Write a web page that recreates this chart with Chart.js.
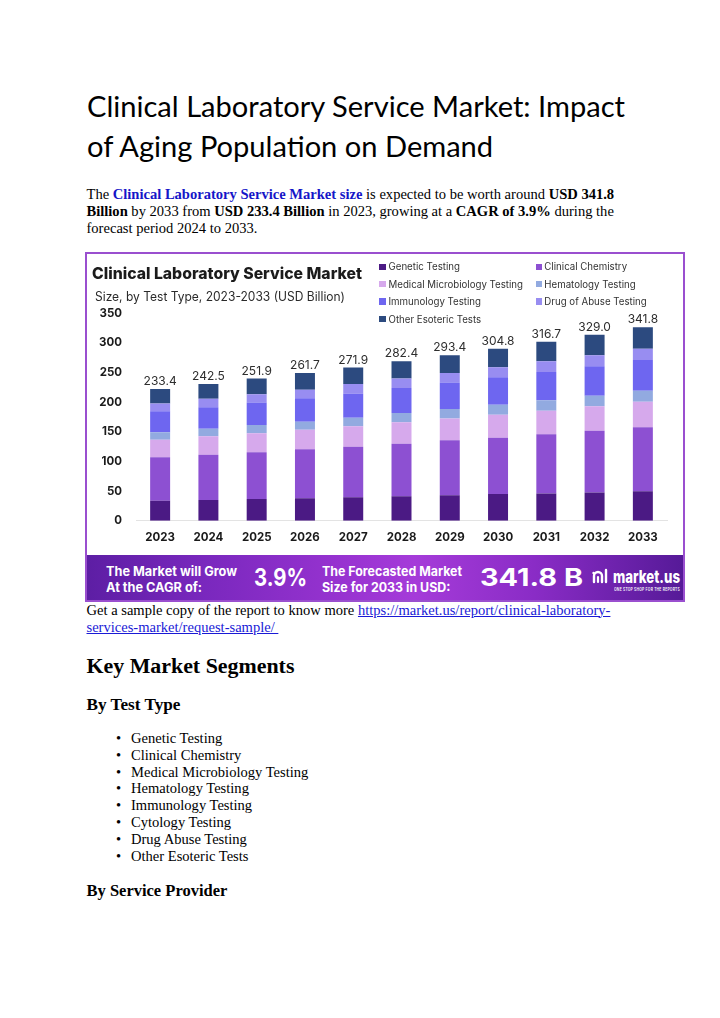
<!DOCTYPE html>
<html>
<head>
<meta charset="utf-8">
<script src="https://cdn.jsdelivr.net/npm/chart.js@4.4.0/dist/chart.umd.min.js"></script>
<style>
  html,body{margin:0;padding:0;background:#fff;}
  body{width:720px;height:1018px;position:relative;overflow:hidden;}
  .ln{position:absolute;top:0;white-space:nowrap;line-height:1;display:inline-block;transform-origin:0 0;}
  .serif{font-family:"Liberation Serif","Times New Roman",serif;color:#000;}
  .h1{font-family:Lato,"Open Sans",sans-serif;font-size:28.5px;color:#000;}
  a{color:#1a0dab;}
  .p1 a{color:#1515c8;font-weight:bold;}
  .lk{color:#1a1ad6;text-decoration:underline;}
  #frame{position:absolute;left:85px;top:252px;width:596px;height:346px;border:2px solid #9a4fcf;background:#fff;overflow:hidden;}
  #chartCanvas{position:absolute;left:0;top:0;}
  .ct{font-family:Inter,"Open Sans",sans-serif;}
  #banner{position:absolute;left:0;top:301px;width:596px;height:45px;
    background:linear-gradient(90deg,#5d1ea4 0%,#7a28be 20%,#9a34d2 45%,#a53bd9 55%,#8a2cc6 75%,#561a98 100%);}
  .wt{color:#fff;font-family:Inter,"Open Sans",sans-serif;font-weight:700;}
  .sq{position:absolute;width:6.5px;height:6.5px;}
</style>
</head>
<body>

<!-- page heading -->
<div class="ln h1" id="h1a" data-x="87" data-b="116.7" data-w="538">Clinical Laboratory Service Market: Impact</div>
<div class="ln h1" id="h1b" data-x="87" data-b="157.3">of Aging Population on Demand</div>

<!-- paragraph -->
<div class="ln serif p1 body" id="p1a" data-x="86.5" data-b="199.3">The <a>Clinical Laboratory Service Market size</a> is expected to be worth around <b>USD 341.8</b></div>
<div class="ln serif p1 body" data-x="86.5" data-b="216.4"><b>Billion</b> by 2033 from <b>USD 233.4 Billion</b> in 2023, growing at a <b>CAGR of 3.9%</b> during the</div>
<div class="ln serif p1 body" data-x="86.5" data-b="233.3">forecast period 2024 to 2033.</div>

<!-- chart frame -->
<div id="frame">
  <canvas id="chartCanvas" width="596" height="300"></canvas>
  <div id="chartTexts"></div>
  <div id="banner"></div>
</div>

<!-- text under chart -->
<div class="ln serif body" data-x="86.5" data-b="614.5">Get a sample copy of the report to know more <span class="lk">https://market.us/report/clinical-laboratory-</span></div>
<div class="ln serif body" data-x="86.5" data-b="631.5"><span class="lk">services-market/request-sample/&nbsp;</span></div>

<div class="ln serif" id="kms" style="font-weight:bold" data-x="86.5" data-b="673" data-fw="208">Key Market Segments</div>
<div class="ln serif" id="btt" style="font-weight:bold" data-x="86.5" data-b="709.5" data-fw="94">By Test Type</div>
<div id="list"></div>
<div class="ln serif" id="bsp" style="font-weight:bold" data-x="86.5" data-b="895.5" data-fw="141">By Service Provider</div>

<script>
// ---------------- DATA ----------------
const years = ['2023','2024','2025','2026','2027','2028','2029','2030','2031','2032','2033'];
const totalLabels = ['233.4','242.5','251.9','261.7','271.9','282.4','293.4','304.8','316.7','329.0','341.8'];
const geneticTesting      = [33.8, 34.9, 36.6, 37.7, 39.4, 41.1, 42.8, 45.0, 46.1, 47.8, 49.5];
const clinicalChemistry   = [73.2, 76.5, 78.8, 82.7, 85.5, 88.9, 92.9, 95.1, 99.6, 104.1, 108.0];
const medicalMicrobiology = [29.8, 31.0, 32.1, 33.2, 34.3, 36.0, 36.6, 38.8, 40.0, 41.1, 43.3];
const hematologyTesting   = [12.4, 12.9, 14.1, 13.5, 14.6, 15.8, 16.3, 16.9, 17.4, 18.0, 18.6];
const immunologyTesting   = [35.5, 36.0, 37.7, 39.4, 40.5, 42.2, 44.5, 46.1, 47.8, 49.5, 51.8];
const drugOfAbuseTesting  = [12.9, 14.6, 14.1, 14.6, 16.3, 15.8, 16.3, 16.9, 18.0, 18.6, 19.1];
const otherEsotericTests  = [24.8, 24.8, 26.4, 28.1, 28.1, 29.3, 29.8, 31.5, 33.2, 34.9, 36.0];
const seriesNames = ['Genetic Testing','Clinical Chemistry','Medical Microbiology Testing','Hematology Testing','Immunology Testing','Drug of Abuse Testing','Other Esoteric Tests'];
const seriesValues = [geneticTesting, clinicalChemistry, medicalMicrobiology, hematologyTesting, immunologyTesting, drugOfAbuseTesting, otherEsotericTests];
const seriesColors = ['#4b1a84','#8d50d2','#d6a9ec','#92aae0','#6e66f0','#988df1','#2c4a7f'];
const yMin = 0, yMax = 350, yStep = 50;
const listItems = ['Genetic Testing','Clinical Chemistry','Medical Microbiology Testing','Hematology Testing','Immunology Testing','Cytology Testing','Drug Abuse Testing','Other Esoteric Tests'];

// ---------------- TEXT HELPERS ----------------
function marker(el){
  const m=document.createElement('span');
  m.style.cssText='display:inline-block;width:0;height:0;vertical-align:baseline';
  el.appendChild(m);
  const y=m.getBoundingClientRect().top; m.remove(); return y;
}
function placeAll(){
  document.querySelectorAll('.ln').forEach(el=>{
    if(el.dataset.x) el.style.left=el.dataset.x+'px';
    el.style.top='0px';
    const y=marker(el);
    const parentTop = el.offsetParent ? el.offsetParent.getBoundingClientRect().top + (el.offsetParent.clientTop||0) : 0;
    el.style.top=((+el.dataset.b) - parentTop - (y-parentTop))+'px';
  });
}
function widthOf(el){ const t=el.style.transform; el.style.transform='none'; const w=el.getBoundingClientRect().width; el.style.transform=t; return w; }

// list
const listDiv=document.getElementById('list');
listItems.forEach((t,i)=>{
  const b=document.createElement('div'); b.className='ln serif body'; b.dataset.x='116'; b.dataset.b=(742.8+16.86*i).toFixed(2); b.textContent='\u2022'; listDiv.appendChild(b);
  const d=document.createElement('div'); d.className='ln serif body'; d.dataset.x='131'; d.dataset.b=(742.8+16.86*i).toFixed(2); d.textContent=t; listDiv.appendChild(d);
});

// body font size fit
const p1a=document.getElementById('p1a');
p1a.style.fontSize='15px';
const fsBody=15*528/widthOf(p1a);
document.querySelectorAll('.body').forEach(e=>e.style.fontSize=fsBody+'px');
// bold headings fit by font size
['kms','btt','bsp'].forEach(id=>{const e=document.getElementById(id); e.style.fontSize='20px'; e.style.fontSize=(20*(+e.dataset.fw)/widthOf(e))+'px';});
// h1 scaleX
const h1a=document.getElementById('h1a'), h1b=document.getElementById('h1b');
const sH=538/widthOf(h1a);
h1a.style.transform=h1b.style.transform='scaleX('+sH+')';

// ---------------- CHART TEXTS (title, legend, banner) ----------------
const ct=document.getElementById('chartTexts');
const FX=87, FY=254; // frame inner origin in page coords
function addText(parent, html, cls, x, b, style, w){
  const d=document.createElement('div'); d.className='ln '+cls; d.innerHTML=html;
  d.dataset.x=(x-FX); d.dataset.b=b; if(style) d.style.cssText+=style; if(w) d.dataset.sw=w;
  parent.appendChild(d); return d;
}
addText(ct,'Clinical Laboratory Service Market','ct',92,278.8,'font-size:16px;font-weight:800;color:#1b1b1b;',270);
addText(ct,'Size, by Test Type, 2023-2033 (USD Billion)','ct',95,301.2,'font-size:12.4px;font-weight:400;color:#2a2a2a;',250);

// legend: 2 columns, series order row-major
seriesNames.forEach((n,i)=>{
  const col=i%2,row=Math.floor(i/2);
  const sx=[379.3,535.7][col], tx=[388.5,544.3][col];
  const cy=266.8+17.4*row;
  const sq=document.createElement('div'); sq.className='sq';
  sq.style.left=(sx-FX)+'px'; sq.style.top=(cy-3.3-FY)+'px'; sq.style.background=seriesColors[i];
  ct.appendChild(sq);
  addText(ct,n,'ct',tx,cy+3.6,'font-size:9.7px;color:#333;');
});

// banner texts
const bn=document.getElementById('banner');
const bannerTop=FY+301;
function addB(html,x,b,style,w){
  const d=document.createElement('div'); d.className='ln wt'; d.innerHTML=html;
  d.dataset.x=(x-FX); d.dataset.b=b; d.style.cssText+=style; if(w) d.dataset.sw=w; bn.appendChild(d); return d;
}
const bA1=addB('The Market will Grow',106,576.3,'font-size:13px;',131);
const bA2=addB('At the CAGR of:',106,592.3,'font-size:13px;');
addB('3.9%',254,586,'font-size:24px;',53);
const bB1=addB('The Forecasted Market',322,576.3,'font-size:13px;',140);
const bB2=addB('Size for 2033 in USD:',322,592.3,'font-size:13px;');
addB('341.8 B',480,586,'font-size:24px;',103);
addB('market.us',613,582.5,'font-size:17px;font-weight:800;',67);
addB('ONE STOP SHOP FOR THE REPORTS',613.5,591,'font-size:4.6px;font-weight:600;letter-spacing:0.3px;',66);
// logo icon (simple glyph)
const ic=document.createElement('div');
ic.style.cssText='position:absolute;left:'+(592-FX)+'px;top:'+(567-bannerTop)+'px;width:16px;height:17px;';
ic.innerHTML='<svg width="16" height="17" viewBox="0 0 16 17"><path d="M2 15 V9 a4 4 0 0 1 8 0 V15" fill="none" stroke="#fff" stroke-width="2.4" stroke-linecap="round"/><path d="M6 15 V10" stroke="#fff" stroke-width="2.2" stroke-linecap="round"/><path d="M14 15 V3" stroke="#fff" stroke-width="2.4" stroke-linecap="round"/><circle cx="1.5" cy="6" r="1.2" fill="#fff"/></svg>';
bn.appendChild(ic);

// apply scaleX for elements with data-sw
document.querySelectorAll('[data-sw]').forEach(e=>{ e.style.transform='scaleX('+((+e.dataset.sw)/widthOf(e))+')'; });
bA2.style.transform=bA1.style.transform; bB2.style.transform=bB1.style.transform;

placeAll();

// ---------------- CHART ----------------
const totalsPlugin={
  id:'totals',
  afterDatasetsDraw(chart){
    const ctx=chart.ctx; const n=chart.data.datasets.length;
    const meta=chart.getDatasetMeta(n-1);
    ctx.save();
    ctx.font='400 12px Inter, "Open Sans", sans-serif';
    ctx.fillStyle='#2e2e2e'; ctx.textAlign='center'; ctx.textBaseline='bottom';
    meta.data.forEach((el,i)=>{ ctx.fillText(totalLabels[i], el.x, el.y-1.5); });
    ctx.restore();
  }
};
new Chart(document.getElementById('chartCanvas'),{
  type:'bar',
  data:{
    labels:years,
    datasets:seriesNames.map((n,i)=>({label:n,data:seriesValues[i],backgroundColor:seriesColors[i],stack:'s',borderWidth:0,barPercentage:0.414,categoryPercentage:1}))
  },
  options:{
    responsive:false, animation:false, devicePixelRatio:1,
    layout:{padding:{top:59.3,right:16,left:0,bottom:3.3}},
    plugins:{legend:{display:false},tooltip:{enabled:false},title:{display:false}},
    scales:{
      x:{stacked:true, grid:{display:false,drawTicks:false}, border:{display:true,color:'#e3e3e3',width:1},
         ticks:{font:{family:'Inter',size:11.5,weight:'bold'},color:'#1a1a1a',padding:10,maxRotation:0,autoSkip:false},
         afterFit(s){s.height=30;}},
      y:{stacked:true, min:yMin, max:yMax, grid:{display:false,drawTicks:false}, border:{display:false},
         ticks:{stepSize:yStep,font:{family:'Inter',size:11.5,weight:'bold'},color:'#1a1a1a',padding:14},
         afterFit(s){s.width=49;}}
    }
  },
  plugins:[totalsPlugin]
});
</script>
</body>
</html>
